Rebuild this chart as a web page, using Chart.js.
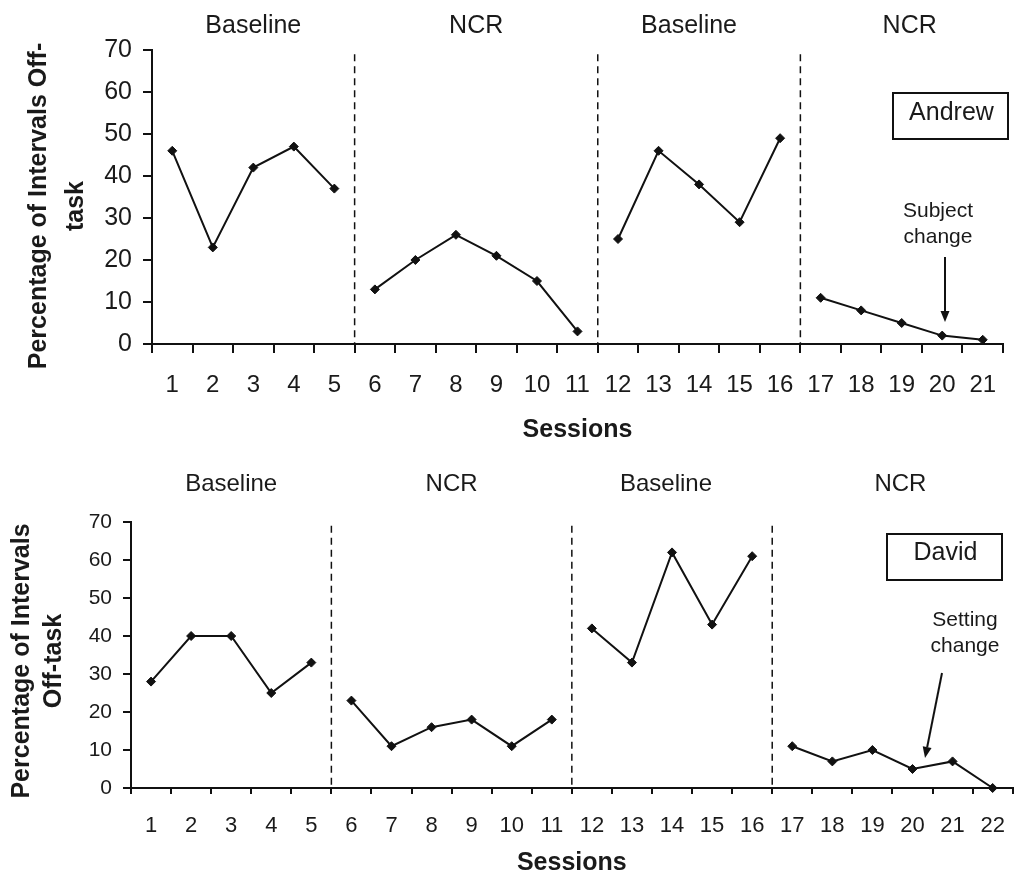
<!DOCTYPE html>
<html>
<head>
<meta charset="utf-8">
<script src="https://cdn.jsdelivr.net/npm/chart.js@4.4.1/dist/chart.umd.min.js"></script>
<style>
  html, body { margin: 0; padding: 0; background: #fff; }
  #wrap { position: relative; width: 1024px; height: 880px; }
  canvas { position: absolute; left: 0; }
  #andrewChart { top: 0; }
  #davidChart { top: 450px; }
</style>
</head>
<body>
<div id="wrap">
  <canvas id="andrewChart" width="1024" height="450"></canvas>
  <canvas id="davidChart" width="1024" height="430"></canvas>
</div>
<script>
// data
const andrewSessions = ['1','2','3','4','5','6','7','8','9','10','11','12','13','14','15','16','17','18','19','20','21'];
const andrewOffTask = [46, 23, 42, 47, 37, 13, 20, 26, 21, 15, 3, 25, 46, 38, 29, 49, 11, 8, 5, 2, 1];
const andrewPhaseEnds = [5, 11, 16];

const davidSessions = ['1','2','3','4','5','6','7','8','9','10','11','12','13','14','15','16','17','18','19','20','21','22'];
const davidOffTask = [28, 40, 40, 25, 33, 23, 11, 16, 18, 11, 18, 42, 33, 62, 43, 61, 11, 7, 10, 5, 7, 0];
const davidPhaseEnds = [5, 11, 16];

const phaseNames = ['Baseline', 'NCR', 'Baseline', 'NCR'];
const yMin = 0, yMax = 70, yStep = 10;

const INK = '#111';
const FONT = "'Liberation Sans', Arial, sans-serif";
Chart.defaults.font.family = FONT;
Chart.defaults.color = '#1a1a1a';

function drawText(ctx, text, x, y, size, bold, align) {
  ctx.font = (bold ? 'bold ' : '') + size + 'px ' + FONT;
  ctx.textAlign = align || 'center';
  ctx.textBaseline = 'alphabetic';
  ctx.fillText(text, x, y);
}

function makeChart(id, labels, values, phaseEnds, cfg) {
  const extras = {
    id: 'extras',
    afterDraw(chart) {
      const ctx = chart.ctx;
      const x = chart.scales.x, y = chart.scales.y;
      const area = chart.chartArea;
      ctx.save();
      ctx.fillStyle = '#1a1a1a';
      ctx.strokeStyle = INK;

      // phase change lines
      const bounds = [area.left];
      phaseEnds.forEach(b => {
        const px = (x.getPixelForValue(b - 1) + x.getPixelForValue(b)) / 2;
        bounds.push(px);
        ctx.lineWidth = 1.5;
        ctx.setLineDash([7, 5]);
        ctx.beginPath();
        ctx.moveTo(px, y.getPixelForValue(69));
        ctx.lineTo(px, area.bottom);
        ctx.stroke();
      });
      bounds.push(area.right);
      ctx.setLineDash([]);

      // phase names
      phaseNames.forEach((name, i) => {
        const cx = (bounds[i] + bounds[i + 1]) / 2 + cfg.phaseShift[i];
        drawText(ctx, name, cx, cfg.phaseBaseline, cfg.phaseSize, false);
      });

      // y axis title (two lines, rotated)
      ctx.save();
      ctx.translate(cfg.yTitle.x, cfg.yTitle.cy);
      ctx.rotate(-Math.PI / 2);
      cfg.yTitle.lines.forEach((line, i) => {
        drawText(ctx, line, 0, i * cfg.yTitle.gap, 25, true);
      });
      ctx.restore();

      // name box
      const b = cfg.nameBox;
      ctx.lineWidth = 2;
      ctx.strokeRect(b.x, b.y, b.w, b.h);
      drawText(ctx, b.text, b.x + b.w / 2 + 1, b.baseline, 25, false);

      // note with arrow
      const n = cfg.note;
      n.lines.forEach((line, i) => drawText(ctx, line, n.x, n.baseline + i * 26, 21, false));
      const ang = Math.atan2(n.tip[1] - n.tail[1], n.tip[0] - n.tail[0]);
      const hl = 11, hw = 4.5;
      const bx = n.tip[0] - hl * Math.cos(ang), by = n.tip[1] - hl * Math.sin(ang);
      ctx.lineWidth = 2;
      ctx.beginPath();
      ctx.moveTo(n.tail[0], n.tail[1]);
      ctx.lineTo(bx, by);
      ctx.stroke();
      ctx.fillStyle = INK;
      ctx.beginPath();
      ctx.moveTo(n.tip[0], n.tip[1]);
      ctx.lineTo(bx - hw * Math.sin(ang), by + hw * Math.cos(ang));
      ctx.lineTo(bx + hw * Math.sin(ang), by - hw * Math.cos(ang));
      ctx.closePath();
      ctx.fill();
      ctx.restore();
    }
  };

  return new Chart(document.getElementById(id), {
    type: 'line',
    data: {
      labels: labels,
      datasets: [{
        data: values,
        borderColor: INK,
        borderWidth: 2,
        pointStyle: 'rectRot',
        pointRadius: 4.5,
        pointBackgroundColor: INK,
        pointBorderColor: INK,
        pointBorderWidth: 1,
        tension: 0,
        clip: false,
        segment: {
          borderColor: c => phaseEnds.includes(c.p1DataIndex) ? 'rgba(0,0,0,0)' : INK
        }
      }]
    },
    options: {
      responsive: false,
      animation: false,
      events: [],
      layout: { padding: cfg.padding },
      plugins: { legend: { display: false }, tooltip: { enabled: false } },
      scales: {
        x: {
          type: 'category',
          offset: true,
          afterFit: s => { s.height = cfg.xHeight; },
          grid: { offset: true, drawOnChartArea: false, drawTicks: true, tickLength: cfg.xTickLen, color: INK, lineWidth: 2 },
          border: { display: true, color: INK, width: 2 },
          ticks: { autoSkip: false, maxRotation: 0, minRotation: 0, padding: cfg.xTickPad, font: { size: cfg.xTickSize }, color: '#1a1a1a' },
          title: { display: true, text: 'Sessions', font: { size: 25, weight: 'bold', lineHeight: 1.2 }, padding: { top: 0, bottom: cfg.xTitlePad }, color: '#1a1a1a' }
        },
        y: {
          min: yMin,
          max: yMax,
          afterFit: s => { s.width = cfg.yWidth; },
          grid: { drawOnChartArea: false, drawTicks: true, tickLength: cfg.yTickLen, color: INK, lineWidth: 2 },
          border: { display: true, color: INK, width: 2 },
          ticks: { stepSize: yStep, padding: 11, font: { size: cfg.yTickSize }, color: '#1a1a1a' }
        }
      }
    },
    plugins: [extras]
  });
}

makeChart('andrewChart', andrewSessions, andrewOffTask, andrewPhaseEnds, {
  padding: { left: 0, top: 50, right: 21, bottom: 0 },
  yWidth: 152, xHeight: 106,
  xTickLen: 9, xTickPad: 18, xTickSize: 24, xTitlePad: 5,
  yTickLen: 9, yTickSize: 25,
  phaseBaseline: 33, phaseSize: 25, phaseShift: [0, 0, -10, 8],
  yTitle: { x: 46, cy: 206, gap: 37, lines: ['Percentage of Intervals Off-', 'task'] },
  nameBox: { x: 893, y: 93, w: 115, h: 46, text: 'Andrew', baseline: 120 },
  note: { lines: ['Subject', 'change'], x: 938, baseline: 217, tail: [945, 257], tip: [945, 322] }
});

makeChart('davidChart', davidSessions, davidOffTask, davidPhaseEnds, {
  padding: { left: 0, top: 72, right: 2, bottom: 0 },
  yWidth: 131, xHeight: 92,
  xTickLen: 6, xTickPad: 19, xTickSize: 22, xTitlePad: 2,
  yTickLen: 8, yTickSize: 21,
  phaseBaseline: 41, phaseSize: 24, phaseShift: [0, 0, -6, 8],
  yTitle: { x: 29, cy: 211, gap: 32, lines: ['Percentage of Intervals', 'Off-task'] },
  nameBox: { x: 887, y: 84, w: 115, h: 46, text: 'David', baseline: 110 },
  note: { lines: ['Setting', 'change'], x: 965, baseline: 176, tail: [942, 223], tip: [925, 308] }
});
</script>
</body>
</html>
